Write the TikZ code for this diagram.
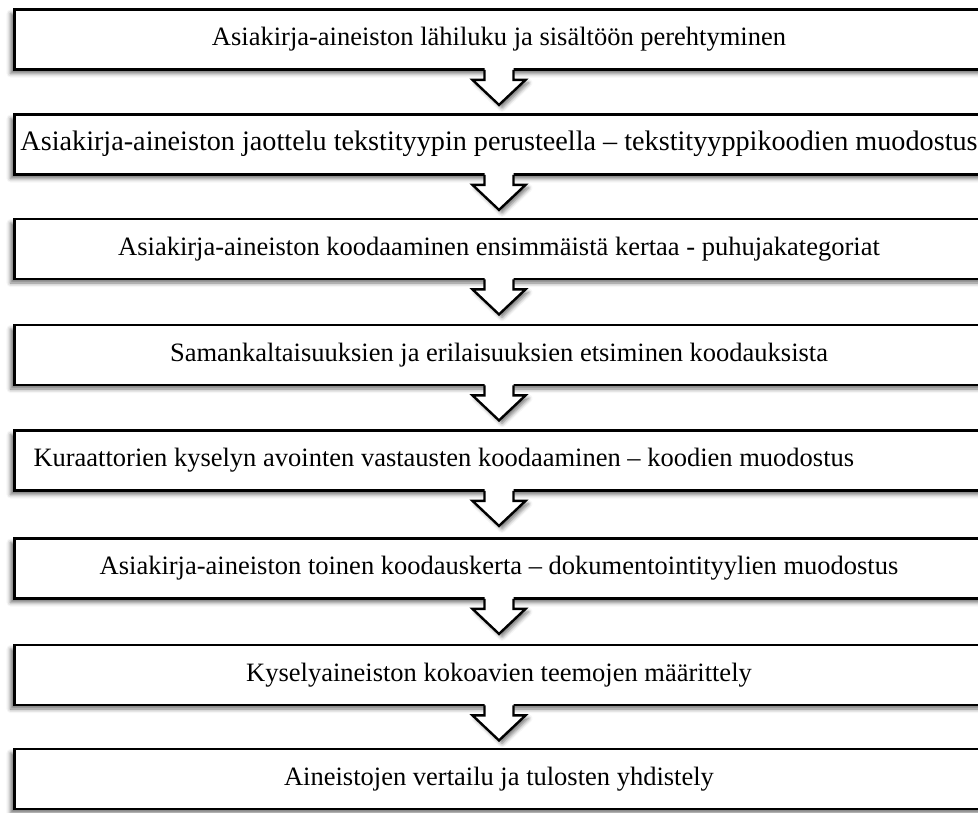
\documentclass[tikz,border=0pt]{standalone}
\usepackage{fontspec}
\setmainfont{Liberation Serif}
\usetikzlibrary{calc,shadows.blur}
\pgfdeclarelayer{background}
\pgfsetlayers{background,main}

\begin{document}
\begin{tikzpicture}[x=1pt, y=-1pt,
    stage/.style={draw=black, line width=2.8pt, fill=white,
      minimum width=969pt, minimum height=60pt, inner sep=4pt,
      font=\fontsize{26.5}{32}\selectfont,
      blur shadow={shadow xshift=-4pt, shadow yshift=-4pt,
        shadow blur radius=4pt, shadow opacity=55}},
    stage wide/.style={stage, font=\fontsize{28.2}{32}\selectfont},
    stage left/.style={stage, text width=931pt, inner xsep=19pt, align=flush left},
    step arrow/.style={draw=black, line width=2.4pt, line join=miter},
    step shade/.style={fill=white, blur shadow={shadow xshift=3pt,
        shadow yshift=-3pt, shadow blur radius=4pt, shadow opacity=55}}]

  \useasboundingbox (0,0) rectangle (978,812);

  % === Stages of the analysis ===
  \node[stage] (s1) at (499,39.5)
    {\strut Asiakirja-aineiston lähiluku ja sisältöön perehtyminen};
  \node[stage wide] (s2) at (499,144.5)
    {\strut Asiakirja-aineiston jaottelu tekstityypin perusteella – tekstityyppikoodien muodostus};
  \node[stage] (s3) at (499,249)
    {\strut Asiakirja-aineiston koodaaminen ensimmäistä kertaa - puhujakategoriat};
  \node[stage] (s4) at (499,355)
    {\strut Samankaltaisuuksien ja erilaisuuksien etsiminen koodauksista};
  \node[stage left] (s5) at (499,460.5)
    {\strut Kuraattorien kyselyn avointen vastausten koodaaminen – koodien muodostus};
  \node[stage] (s6) at (499,568.5)
    {\strut Asiakirja-aineiston toinen koodauskerta – dokumentointityylien muodostus};
  \node[stage] (s7) at (499,675)
    {\strut Kyselyaineiston kokoavien teemojen määrittely};
  \node[stage] (s8) at (499,779)
    {\strut Aineistojen vertailu ja tulosten yhdistely};

  % === Block arrows between stages ===
  \foreach \i in {1,...,7} {
    % shadow of the head, kept behind the boxes
    \begin{pgfonlayer}{background}
      \fill[step shade] ($(s\i.south)+(-26.5,9)$)
        -- ($(s\i.south)+(0,34)$) -- ($(s\i.south)+(26.5,9)$) -- cycle;
    \end{pgfonlayer}
    % white body covers the bottom edge of the box above
    \fill[white] ($(s\i.south)+(-14.5,-3)$) -- ++(0,12) -- ++(-12,0)
      -- ($(s\i.south)+(0,34)$) -- ($(s\i.south)+(26.5,9)$) -- ++(-12,0)
      -- ++(0,-12) -- cycle;
    % open outline
    \draw[step arrow] ($(s\i.south)+(-14.5,-1)$) -- ++(0,10) -- ++(-12,0)
      -- ($(s\i.south)+(0,34)$) -- ($(s\i.south)+(26.5,9)$) -- ++(-12,0)
      -- ++(0,-10);
  }

\end{tikzpicture}
\end{document}
